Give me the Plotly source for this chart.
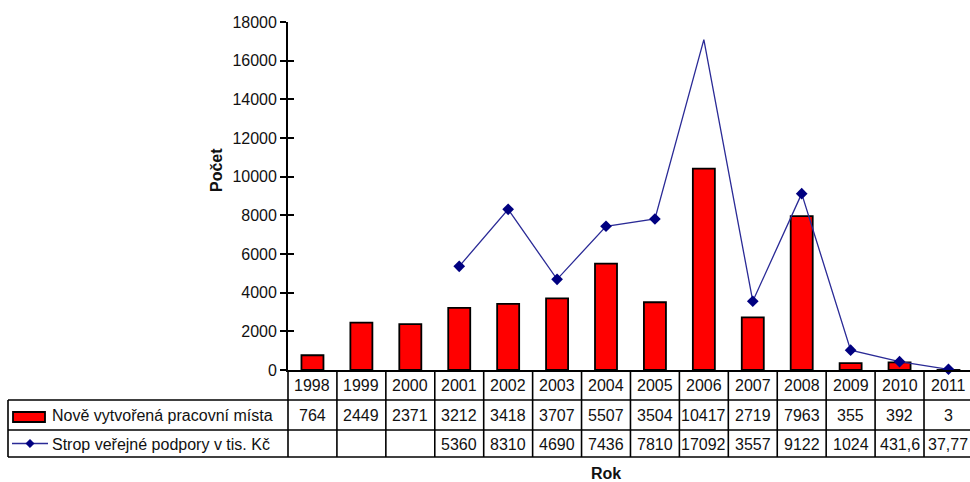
import plotly.graph_objects as go

years = ["1998", "1999", "2000", "2001", "2002", "2003", "2004", "2005",
         "2006", "2007", "2008", "2009", "2010", "2011"]
jobs = [764, 2449, 2371, 3212, 3418, 3707, 5507, 3504, 10417, 2719, 7963, 355, 392, 3]
ceiling = [None, None, None, 5360, 8310, 4690, 7436, 7810, 17092, 3557, 9122, 1024, 431.6, 37.77]
ceiling_labels = ["", "", "", "5360", "8310", "4690", "7436", "7810", "17092",
                  "3557", "9122", "1024", "431,6", "37,77"]
jobs_name = "Nově vytvořená pracovní místa"
ceiling_name = "Strop veřejné podpory v tis. Kč"
y_ticks = [0, 2000, 4000, 6000, 8000, 10000, 12000, 14000, 16000, 18000]

W, H = 970, 482
L, R, T = 288, 0, 22
B = H - 370
PW, PH = W - L - R, H - T - B
FONT = "Liberation Sans, Arial, sans-serif"
TXT = "#111111"
NAVY = "#000080"
LINE_C = "#2a2a96"


def px_x(x):
    return (x - L) / PW


def px_y(y):
    return (H - B - y) / PH


marker_sizes = [9] * len(years)
marker_sizes[8] = 0

fig = go.Figure()
fig.add_trace(go.Bar(
    x=years, y=jobs, name=jobs_name,
    marker=dict(color="#FF0000", line=dict(color="black", width=1.8)),
    width=0.45, showlegend=False,
))
fig.add_trace(go.Scatter(
    x=years, y=ceiling, name=ceiling_name, mode="lines+markers",
    line=dict(color=LINE_C, width=1.3),
    marker=dict(symbol="diamond", color=NAVY, size=marker_sizes,
                line=dict(width=0), opacity=1),
    connectgaps=False, showlegend=False, cliponaxis=False,
))
# second y axis only to draw the inward half of the cross tick marks
fig.add_trace(go.Scatter(x=years, y=[None] * len(years), yaxis="y2",
                         showlegend=False, hoverinfo="skip"))

shapes = []
ann = []
line_style = dict(color="black", width=1.6)

for py in [400, 430, 457]:
    shapes.append(dict(type="line", xref="paper", yref="paper",
                       x0=px_x(8), x1=1, y0=px_y(py), y1=px_y(py), line=line_style))
shapes.append(dict(type="line", xref="paper", yref="paper",
                   x0=px_x(8), x1=px_x(8), y0=px_y(400), y1=px_y(457), line=line_style))
shapes.append(dict(type="line", xref="paper", yref="paper",
                   x0=0, x1=0, y0=px_y(370), y1=px_y(457), line=line_style))
for i in range(1, len(years) + 1):
    shapes.append(dict(type="line", xref="x", yref="paper",
                       x0=i - 0.5, x1=i - 0.5, y0=px_y(370), y1=px_y(457), line=line_style))

# legend keys
shapes.append(dict(type="rect", xref="paper", yref="paper",
                   x0=px_x(13), x1=px_x(45), y0=px_y(422), y1=px_y(412),
                   fillcolor="#FF0000", line=dict(color="black", width=1.8)))
shapes.append(dict(type="line", xref="paper", yref="paper",
                   x0=px_x(12), x1=px_x(48), y0=px_y(443.5), y1=px_y(443.5),
                   line=dict(color=LINE_C, width=1.3)))
cx, cy, d = 30, 443.5, 4.2
diamond = "M {} {} L {} {} L {} {} L {} {} Z".format(
    px_x(cx - d), px_y(cy), px_x(cx), px_y(cy - d),
    px_x(cx + d), px_y(cy), px_x(cx), px_y(cy + d))
shapes.append(dict(type="path", xref="paper", yref="paper", path=diamond,
                   fillcolor=NAVY, line=dict(color=NAVY, width=0.5)))

tfont = dict(family=FONT, size=16, color=TXT)
for i, yr in enumerate(years):
    ann.append(dict(x=i, xref="x", y=px_y(385.5), yref="paper", text=yr,
                    xanchor="center", yanchor="middle", showarrow=False, font=tfont))
    ann.append(dict(x=i, xref="x", y=px_y(415.5), yref="paper", text=str(jobs[i]),
                    xanchor="center", yanchor="middle", showarrow=False, font=tfont))
    if ceiling_labels[i]:
        ann.append(dict(x=i, xref="x", y=px_y(444), yref="paper", text=ceiling_labels[i],
                        xanchor="center", yanchor="middle", showarrow=False, font=tfont))
ann.append(dict(x=px_x(50), xref="paper", y=px_y(415.5), yref="paper", text=jobs_name,
                xanchor="left", yanchor="middle", showarrow=False, font=tfont))
ann.append(dict(x=px_x(50), xref="paper", y=px_y(444), yref="paper", text=ceiling_name,
                xanchor="left", yanchor="middle", showarrow=False, font=tfont))
ann.append(dict(x=px_x(606), xref="paper", y=px_y(473), yref="paper", text="<b>Rok</b>",
                xanchor="center", yanchor="middle", showarrow=False, font=tfont))
ann.append(dict(x=px_x(216), xref="paper", y=px_y(170), yref="paper", text="<b>Počet</b>",
                xanchor="center", yanchor="middle", textangle=-90, showarrow=False, font=tfont))

fig.update_layout(
    width=W, height=H,
    margin=dict(l=L, r=R, t=T, b=B, pad=0),
    paper_bgcolor="white", plot_bgcolor="white",
    font=dict(family=FONT, size=16, color=TXT),
    bargap=0.55,
    hovermode=False,
    xaxis=dict(type="category", range=[-0.5, 13.44], showticklabels=False,
               ticks="", showline=True, linecolor="black", linewidth=1.8,
               showgrid=False, zeroline=False, fixedrange=True),
    yaxis=dict(range=[0, 18000], tickvals=y_ticks, tickformat="d",
               showgrid=False, zeroline=False,
               showline=True, linecolor="black", linewidth=1.8,
               ticks="outside", ticklen=6, tickwidth=1.5, tickcolor="black",
               ticklabelstandoff=0, tickfont=tfont),
    yaxis2=dict(overlaying="y", matches="y", range=[0, 18000], tickvals=y_ticks,
                showticklabels=False, ticks="inside", ticklen=6, tickwidth=1.5,
                tickcolor="black", showgrid=False, zeroline=False, showline=False,
                side="left"),
    shapes=shapes,
    annotations=ann,
)

fig.write_html(
    "out.html",
    config={"displayModeBar": False},
    post_script="document.body.style.margin='0';document.body.style.overflow='hidden';",
)
